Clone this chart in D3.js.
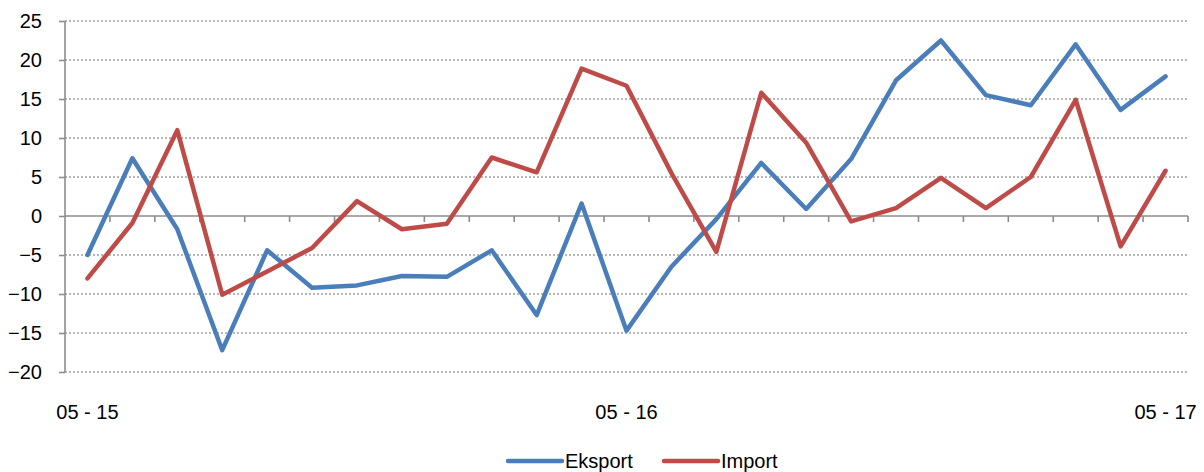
<!DOCTYPE html>
<html>
<head>
<meta charset="utf-8">
<script src="https://cdn.jsdelivr.net/npm/d3@7"></script>
<style>
  body { margin: 0; background: #fff; }
  text { font-family: "Liberation Sans", Arial, sans-serif; fill: #000; }
</style>
</head>
<body>
<svg id="chart" width="1204" height="472"></svg>
<script>
// monthly points, 05-15 .. 05-17
var months = ["05 - 15", "06 - 15", "07 - 15", "08 - 15", "09 - 15", "10 - 15", "11 - 15", "12 - 15",
  "01 - 16", "02 - 16", "03 - 16", "04 - 16", "05 - 16", "06 - 16", "07 - 16", "08 - 16",
  "09 - 16", "10 - 16", "11 - 16", "12 - 16", "01 - 17", "02 - 17", "03 - 17", "04 - 17", "05 - 17"];
var shownLabels = ["05 - 15", "05 - 16", "05 - 17"];
var eksport = [-5.0, 7.4, -1.7, -17.2, -4.4, -9.2, -8.9, -7.7, -7.8, -4.4, -12.7, 1.6, -14.7,
  -6.5, -0.4, 6.8, 0.9, 7.3, 17.4, 22.5, 15.5, 14.2, 22.0, 13.6, 17.9];
var importVals = [-8.0, -0.9, 11.0, -10.1, -7.1, -4.1, 1.9, -1.7, -1.0, 7.5, 5.6, 18.9, 16.7,
  5.5, -4.6, 15.8, 9.4, -0.7, 1.0, 4.9, 1.0, 5.0, 14.9, -3.9, 5.8];
var yTicks = [-20, -15, -10, -5, 0, 5, 10, 15, 20, 25];

var series = [
  { name: "Eksport", values: eksport, color: "#4a7ebb" },
  { name: "Import", values: importVals, color: "#be4b48" }
];

var svg = d3.select("#chart");
var plotLeft = 65, plotRight = 1188, plotTop = 21, plotBottom = 372;

var x = d3.scaleBand().domain(months).range([plotLeft, plotRight]);
var y = d3.scaleLinear().domain([-20, 25]).range([plotBottom, plotTop]);

// dotted gridlines
svg.append("g")
  .selectAll("line")
  .data(yTicks.filter(function(d) { return d !== 0; }))
  .enter().append("line")
    .attr("x1", plotLeft)
    .attr("x2", plotRight)
    .attr("y1", function(d) { return y(d); })
    .attr("y2", function(d) { return y(d); })
    .attr("stroke", "#a0a0a0")
    .attr("stroke-width", 1.3)
    .attr("stroke-dasharray", "2,2");

// y axis
var yAxis = svg.append("g")
  .attr("transform", "translate(" + plotLeft + ",0)")
  .call(d3.axisLeft(y).tickValues(yTicks).tickSize(6).tickPadding(17));
yAxis.selectAll("path, line").attr("stroke", "#8c8c8c").attr("stroke-width", 1.6);
yAxis.select(".domain").attr("d", "M0," + plotTop + "V" + plotBottom);
yAxis.selectAll("text")
  .attr("font-size", "20px")
  .attr("font-family", "Liberation Sans, Arial, sans-serif")
  .attr("fill", "#000");

// x axis sits on zero with ticks at category boundaries
var boundaries = months.map(function(m) { return x(m); }).concat([plotRight]);
var xg = svg.append("g");
xg.append("line")
  .attr("x1", plotLeft).attr("x2", plotRight)
  .attr("y1", y(0)).attr("y2", y(0))
  .attr("stroke", "#8c8c8c").attr("stroke-width", 1.6);
xg.selectAll(".tk")
  .data(boundaries.slice(1))
  .enter().append("line")
    .attr("class", "tk")
    .attr("x1", function(d) { return d; })
    .attr("x2", function(d) { return d; })
    .attr("y1", y(0))
    .attr("y2", y(0) + 6)
    .attr("stroke", "#8c8c8c").attr("stroke-width", 1.6);

svg.append("g")
  .selectAll("text")
  .data(shownLabels)
  .enter().append("text")
    .attr("x", function(d) { return x(d) + x.bandwidth() / 2; })
    .attr("y", 419)
    .attr("text-anchor", "middle")
    .attr("font-size", "20px")
    .text(function(d) { return d; });

// lines
var line = d3.line()
  .x(function(d, i) { return x(months[i]) + x.bandwidth() / 2; })
  .y(function(d) { return y(d); });

svg.selectAll(".series")
  .data(series)
  .enter().append("path")
    .attr("class", "series")
    .attr("d", function(d) { return line(d.values); })
    .attr("fill", "none")
    .attr("stroke", function(d) { return d.color; })
    .attr("stroke-width", 4.5)
    .attr("stroke-linejoin", "round")
    .attr("stroke-linecap", "round");

// legend
var legendX = [508, 664];
var legend = svg.selectAll(".legend")
  .data(series)
  .enter().append("g")
    .attr("class", "legend")
    .attr("transform", function(d, i) { return "translate(" + legendX[i] + ",461)"; });
legend.append("line")
  .attr("x1", 0).attr("x2", 54)
  .attr("stroke", function(d) { return d.color; })
  .attr("stroke-width", 4.5)
  .attr("stroke-linecap", "round");
legend.append("text")
  .attr("x", 57)
  .attr("dy", "0.35em")
  .attr("font-size", "20px")
  .text(function(d) { return d.name; });
</script>
</body>
</html>
